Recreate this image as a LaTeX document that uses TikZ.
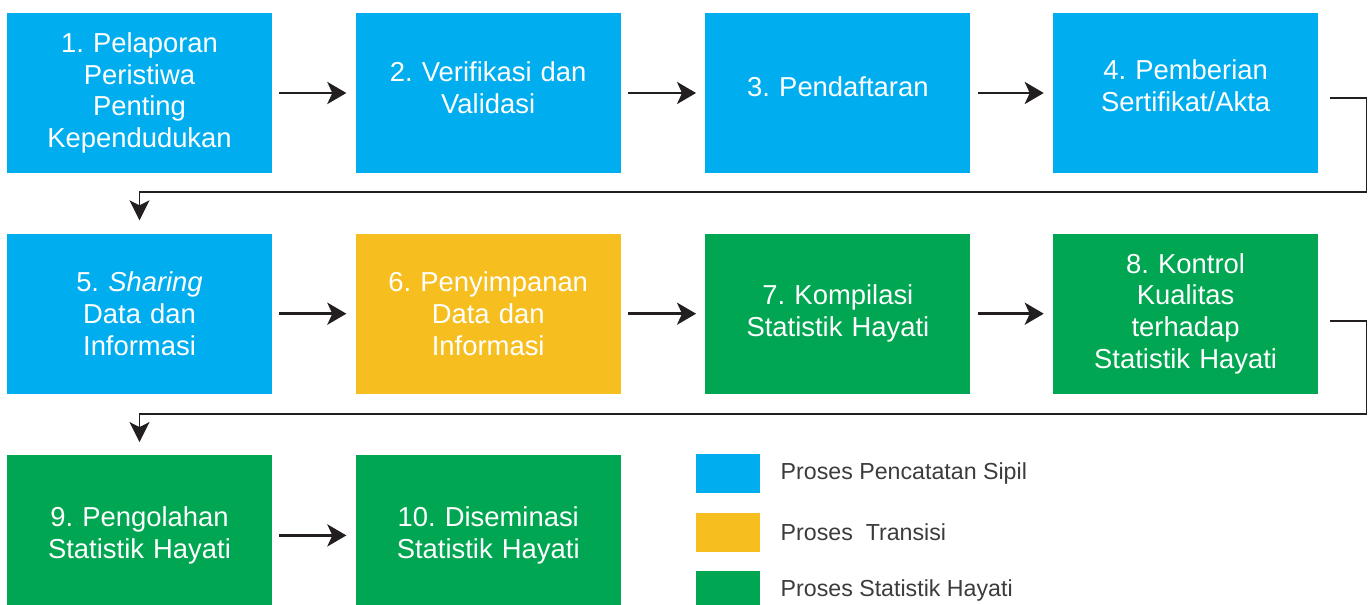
\documentclass[tikz,border=0pt]{standalone}
\usepackage{fontspec}
\setmainfont{Liberation Sans}
\usetikzlibrary{arrows.meta,positioning,calc}
\definecolor{sipil}{HTML}{00AEEF}
\definecolor{transisi}{HTML}{F6BE1F}
\definecolor{hayati}{HTML}{00A651}
\definecolor{ink}{HTML}{231F20}
\definecolor{legendgray}{HTML}{3C3C3C}
\frenchspacing
\tikzset{
  proc/.style={minimum width=5.3cm, minimum height=3.2cm, text width=5.2cm, align=center,
    inner sep=0pt, text=white, font=\fontsize{15.6}{18.1}\selectfont},
  sipilbox/.style={proc, fill=sipil},
  transbox/.style={proc, fill=transisi},
  hayatibox/.style={proc, fill=hayati},
  raised/.style={text depth=#1},
  swatch/.style={minimum width=1.28cm, minimum height=0.78cm, inner sep=0pt},
  legendlabel/.style={inner sep=0pt, text=legendgray, font=\fontsize{13.2}{15}\selectfont},
  flow/.style={-{Stealth[length=0.38cm,width=0.44cm,inset=0.1cm]}, line width=1.7pt,
    draw=ink, shorten <=0.14cm, shorten >=0.18cm},
  link/.style={-{Stealth[length=0.4cm,width=0.4cm,inset=0.1cm]}, line width=1.1pt,
    draw=ink, shorten >=0.26cm},
}
\begin{document}
\begin{tikzpicture}
\useasboundingbox (0,0) rectangle (27.42,12.08);

% row 1
\node[sipilbox] (b1) at (2.79,10.22) {1. Pelaporan\\Peristiwa\\Penting\\Kependudukan};
\node[sipilbox, raised=0.86cm, right=1.66cm of b1] (b2) {2. Verifikasi dan\\Validasi};
\node[sipilbox, raised=0.26cm, right=1.68cm of b2] (b3) {3. Pendaftaran};
\node[sipilbox, raised=0.92cm, right=1.64cm of b3] (b4) {4. Pemberian\\Sertifikat/Akta};

% row 2
\node[sipilbox, below=1.2cm of b1] (b5) {5. \textit{Sharing}\\Data dan\\Informasi};
\node[transbox, right=1.66cm of b5] (b6) {6. Penyimpanan\\Data dan\\Informasi};
\node[hayatibox, right=1.68cm of b6] (b7) {7. Kompilasi\\Statistik Hayati};
\node[hayatibox, right=1.64cm of b7] (b8) {8. Kontrol\\Kualitas\\terhadap\\Statistik Hayati};

% row 3
\node[hayatibox, below=1.22cm of b5] (b9) {9. Pengolahan\\Statistik Hayati};
\node[hayatibox, right=1.66cm of b9] (b10) {10. Diseminasi\\Statistik Hayati};

% arrows within rows
\draw[flow] (b1) -- (b2);
\draw[flow] (b2) -- (b3);
\draw[flow] (b3) -- (b4);
\draw[flow] (b5) -- (b6);
\draw[flow] (b6) -- (b7);
\draw[flow] (b7) -- (b8);
\draw[flow] (b9) -- (b10);

% wrap-around links
\draw[link] ([xshift=0.24cm,yshift=-0.1cm]b4.east) -| ($(b4.south east)+(0.96,-0.38)$) -| (b5.north);
\draw[link] ([xshift=0.24cm,yshift=-0.14cm]b8.east) -| ($(b8.south east)+(0.96,-0.4)$) -| (b9.north);

% legend
\node[swatch, fill=sipil] (s1) at (14.56,2.61) {};
\node[swatch, fill=transisi] (s2) at (14.56,1.44) {};
\node[swatch, fill=hayati] (s3) at (14.56,0.27) {};
\node[legendlabel, right=0.4cm of s1] (l1) {Proses Pencatatan Sipil};
\node[legendlabel, right=0.4cm of s2] (l2) {Proses\ \ Transisi};
\node[legendlabel, right=0.4cm of s3] (l3) {Proses Statistik Hayati};
\end{tikzpicture}
\end{document}
